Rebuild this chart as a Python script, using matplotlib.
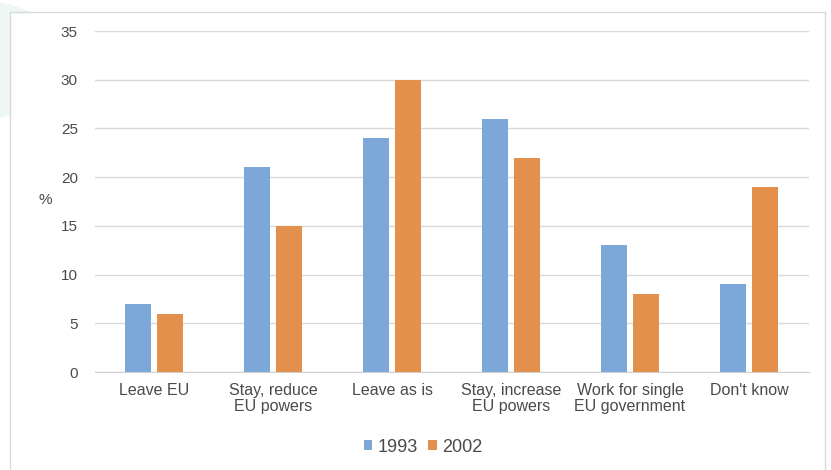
import matplotlib.pyplot as plt
from matplotlib.patches import Rectangle, Circle

categories = ["Leave EU", "Stay, reduce\nEU powers", "Leave as is",
              "Stay, increase\nEU powers", "Work for single\nEU government", "Don't know"]
values_1993 = [7, 21, 24, 26, 13, 9]
values_2002 = [6, 15, 30, 22, 8, 19]
yticks = [0, 5, 10, 15, 20, 25, 30, 35]

W, H = 831, 470
plt.rcParams['font.family'] = ['Liberation Sans', 'DejaVu Sans']

fig = plt.figure(figsize=(W / 100, H / 100), dpi=100)

# faint background decoration outside the chart frame
fig.patches.append(Circle((-40 / W, 1 - 60 / H), 110 / W, transform=fig.transFigure,
                          facecolor='#eef6f6', edgecolor='none', zorder=0))
fig.patches.append(Circle((385 / W, 1 - 80 / H), 70 / W, transform=fig.transFigure,
                          facecolor='#f1f4f7', edgecolor='none', zorder=0))
# chart frame
fig.patches.append(Rectangle((10 / W, -2 / H), 815 / W, 460 / H, transform=fig.transFigure,
                             facecolor='white', edgecolor='#d9d9d9', linewidth=1, zorder=1))

ax = fig.add_axes([94.5 / W, (H - 372) / H, 714 / W, 341 / H])
ax.set_zorder(2)
ax.patch.set_alpha(0)

x = range(len(categories))
bw = 0.22
off = 0.135
ax.bar([i - off for i in x], values_1993, bw, color='#7ba7d9', label='1993', zorder=3)
ax.bar([i + off for i in x], values_2002, bw, color='#e2904b', label='2002', zorder=3)

ax.set_xlim(-0.5, len(categories) - 0.5)
ax.set_ylim(0, 35)
ax.set_yticks(yticks)
ax.set_xticks(list(x))
ax.set_xticklabels(categories, fontsize=11.5, color='#4a4a4a', linespacing=1.1)
ax.tick_params(axis='y', labelsize=11, labelcolor='#4a4a4a', length=0, pad=12)
ax.tick_params(axis='x', length=0, pad=8)
ax.grid(axis='y', color='#d9d9d9', linewidth=1, zorder=0)
for s in ['top', 'right', 'left']:
    ax.spines[s].set_visible(False)
ax.spines['bottom'].set_color('#d0d0d0')

fig.text(45 / W, 1 - 200 / H, '%', fontsize=11, color='#4a4a4a', ha='center', va='center')

ax.legend(loc='center', bbox_to_anchor=(423 / W, 1 - 447 / H), bbox_transform=fig.transFigure,
          ncol=2, frameon=False, fontsize=13, handlelength=0.45, handleheight=0.5,
          handletextpad=0.3, columnspacing=0.6, labelcolor='#4a4a4a')

fig.savefig('out.png', dpi=100)
